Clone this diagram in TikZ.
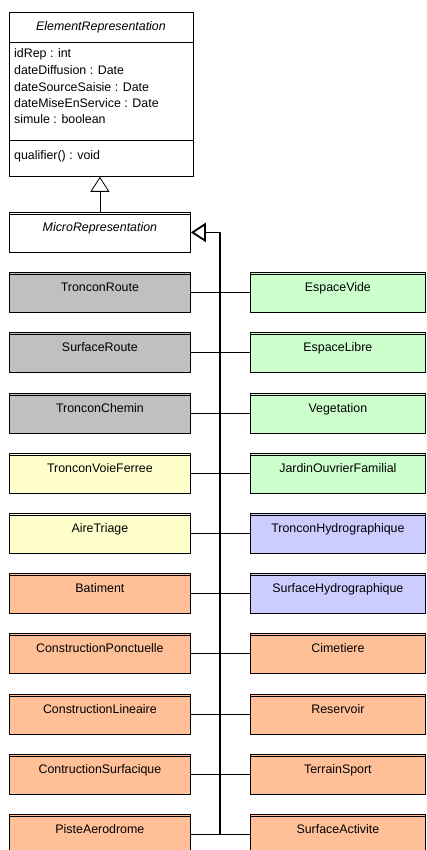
\documentclass[tikz,border=0pt]{standalone}
\usepackage{fontspec}
\setmainfont{Liberation Sans}
\usepackage{xcolor}
\usetikzlibrary{arrows.meta}

\definecolor{roadgray}{RGB}{192,192,192}
\definecolor{natgreen}{RGB}{204,255,204}
\definecolor{railyellow}{RGB}{255,255,204}
\definecolor{buildorange}{RGB}{255,192,152}
\definecolor{waterblue}{RGB}{204,204,255}

\begin{document}
\begin{tikzpicture}[x=1pt, y=-1pt,
    every node/.style={font=\fontsize{12.4}{15}\selectfont},
    class box/.style={rectangle, draw, line width=0.8pt, anchor=north west,
      inner sep=0pt, minimum height=40pt, text height=8pt, text depth=9.4pt,
      path picture={\draw[line width=0.8pt]
        ([yshift=-2pt]path picture bounding box.north west) --
        ([yshift=-2pt]path picture bounding box.north east);}},
    left box/.style={class box, minimum width=181pt},
    right box/.style={class box, minimum width=175pt},
    member/.style={anchor=base west, inner sep=0pt},
    link/.style={line width=0.8pt},
    inherit/.style={-{Triangle[open, length=15pt, width=19pt]}, line width=0.8pt},
  ]
  \useasboundingbox (0,0) rectangle (426,850);

  % abstract root class
  \node[draw, line width=0.8pt, anchor=north west, inner sep=0pt,
        minimum width=184pt, minimum height=164pt] (elem) at (9,12) {};
  \node[anchor=base, inner sep=0pt] (elemName) at (101,31) {\itshape ElementRepresentation};
  \draw[link] (elem.west |- 0,42) -- (elem.east |- 0,42);
  \draw[link] (elem.west |- 0,140) -- (elem.east |- 0,140);
  \node[member] (idRep)   at (14,57.7)  {idRep : int};
  \node[member] (dateDif) at (14,75)    {dateDiffusion : Date};
  \node[member] (dateSrc) at (14,91.8)  {dateSourceSaisie : Date};
  \node[member] (dateMes) at (14,107.6) {dateMiseEnService : Date};
  \node[member] (simule)  at (14,123.7) {simule : boolean};
  \node[member] (qualif)  at (14,159.4) {qualifier() : void};

  \node[left box, fill=white] (micro) at (9,212) {\itshape MicroRepresentation};
  \draw[inherit] (micro.north) -- (micro.north |- elem.south);

  % left column
  \node[left box, fill=roadgray]    (tronconRoute)   at (9,272)   {TronconRoute};
  \node[left box, fill=roadgray]    (surfaceRoute)   at (9,332)   {SurfaceRoute};
  \node[left box, fill=roadgray]    (tronconChemin)  at (9,392.5) {TronconChemin};
  \node[left box, fill=railyellow]  (tronconVoie)    at (9,452.5) {TronconVoieFerree};
  \node[left box, fill=railyellow]  (aireTriage)     at (9,513)   {AireTriage};
  \node[left box, fill=buildorange] (batiment)       at (9,573)   {Batiment};
  \node[left box, fill=buildorange] (constrPonct)    at (9,633)   {ConstructionPonctuelle};
  \node[left box, fill=buildorange] (constrLin)      at (9,693.5) {ConstructionLineaire};
  \node[left box, fill=buildorange] (constrSurf)     at (9,753.5) {ContructionSurfacique};
  \node[left box, fill=buildorange] (pisteAero)      at (9,814)   {PisteAerodrome};

  % right column
  \node[right box, fill=natgreen]    (espaceVide)    at (250,272)   {EspaceVide};
  \node[right box, fill=natgreen]    (espaceLibre)   at (250,332)   {EspaceLibre};
  \node[right box, fill=natgreen]    (vegetation)    at (250,392.5) {Vegetation};
  \node[right box, fill=natgreen]    (jardin)        at (250,452.5) {JardinOuvrierFamilial};
  \node[right box, fill=waterblue]   (tronconHydro)  at (250,513)   {TronconHydrographique};
  \node[right box, fill=waterblue]   (surfaceHydro)  at (250,573)   {SurfaceHydrographique};
  \node[right box, fill=buildorange] (cimetiere)     at (250,633)   {Cimetiere};
  \node[right box, fill=buildorange] (reservoir)     at (250,693.5) {Reservoir};
  \node[right box, fill=buildorange] (terrainSport)  at (250,753.5) {TerrainSport};
  \node[right box, fill=buildorange] (surfaceActiv)  at (250,814)   {SurfaceActivite};

  % shared generalization bus
  \coordinate (bus) at (220,0);
  \draw[inherit, line width=1.8pt] (bus |- pisteAero.east) -- (bus |- micro.east) -- (micro.east);

  \draw[link] (tronconRoute.east)  -- (espaceVide.west);
  \draw[link] (surfaceRoute.east)  -- (espaceLibre.west);
  \draw[link] (tronconChemin.east) -- (vegetation.west);
  \draw[link] (tronconVoie.east)   -- (jardin.west);
  \draw[link] (aireTriage.east)    -- (tronconHydro.west);
  \draw[link] (batiment.east)      -- (surfaceHydro.west);
  \draw[link] (constrPonct.east)   -- (cimetiere.west);
  \draw[link] (constrLin.east)     -- (reservoir.west);
  \draw[link] (constrSurf.east)    -- (terrainSport.west);
  \draw[link] (pisteAero.east)     -- (surfaceActiv.west);
\end{tikzpicture}
\end{document}
